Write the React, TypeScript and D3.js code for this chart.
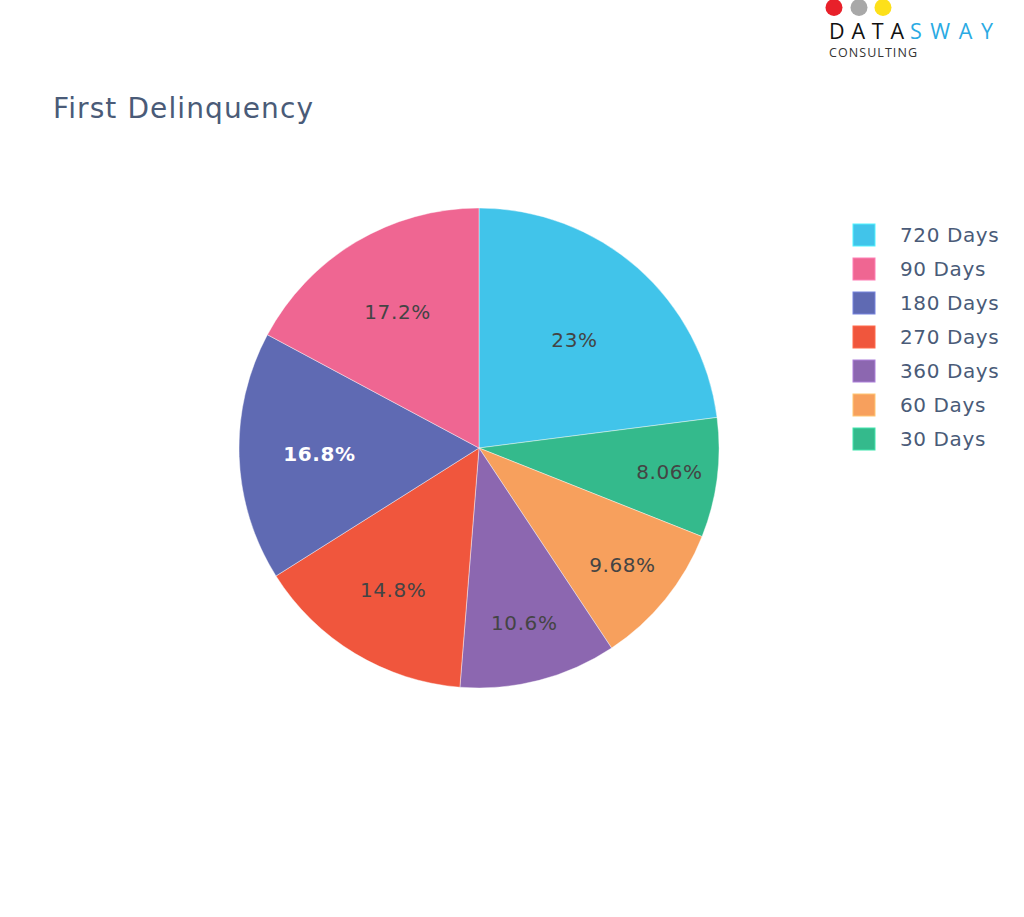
import React from "react";
import * as d3 from "d3";

const labels = ["720 Days", "30 Days", "60 Days", "360 Days", "270 Days", "180 Days", "90 Days"];
const shares = [23, 8.06, 9.68, 10.6, 14.8, 16.8, 17.2];
const colors = ["#41c4ea", "#34ba8c", "#f7a05d", "#8c67b0", "#f0563d", "#5f6ab3", "#ef6692"];
const legendOrder = ["720 Days", "90 Days", "180 Days", "270 Days", "360 Days", "60 Days", "30 Days"];

const W = 1024;
const H = 917;
const cx = 479;
const cy = 448;
const R = 240;
const FONT = "'DejaVu Sans', Verdana, sans-serif";

function brightness(c: string) {
  const rgb = d3.rgb(c);
  return rgb.r * 0.299 + rgb.g * 0.587 + rgb.b * 0.114;
}

export default function App() {
  const data = labels.map((l, i) => ({ label: l, value: shares[i], color: colors[i] }));
  const pie = d3
    .pie<any>()
    .value((d) => d.value)
    .sort(null)
    .startAngle(0)
    .endAngle(Math.PI * 2);
  const arcs = pie(data);
  const arc = d3.arc<any>().innerRadius(0).outerRadius(R);
  const fmt = (v: number) => d3.format(".3~r")(v) + "%";

  return (
    <svg width={W} height={H} style={{ position: "absolute", left: 0, top: 0, background: "#fff" }}>
      {/* logo */}
      <g>
        <circle cx={834} cy={7.5} r={8.5} fill="#e8202a" />
        <circle cx={859} cy={7.5} r={8.5} fill="#a8a8a8" />
        <circle cx={883} cy={7.5} r={8.5} fill="#fde01a" />
        <text x={829} y={39} fontFamily="'Open Sans', sans-serif" fontSize={21.5} fill="#111" textLength={75} lengthAdjust="spacing">DATA</text>
        <text x={910} y={39} fontFamily="'Open Sans', sans-serif" fontSize={21.5} fill="#2aaae3" textLength={83} lengthAdjust="spacing">SWAY</text>
        <text x={829} y={57} fontFamily="'Open Sans', sans-serif" fontSize={12.5} fill="#333" textLength={88} lengthAdjust="spacing">CONSULTING</text>
      </g>

      <text x={53} y={118} fontFamily={FONT} fontSize={28} fill="#4a5b78" letterSpacing={1.1}>
        First Delinquency
      </text>

      <g transform={`translate(${cx},${cy})`}>
        {arcs.map((a, i) => (
          <path key={i} d={arc(a) as string} fill={a.data.color} stroke="#ffffff" strokeWidth={0.6} strokeOpacity={0.7} />
        ))}
        {arcs.map((a, i) => {
          const half = (a.endAngle - a.startAngle) / 2;
          const mid = (a.startAngle + a.endAngle) / 2;
          const rIns = half >= Math.PI / 2 ? 0.5 : Math.min(Math.sin(half) / (1 + Math.sin(half)), 0.5);
          const rc = R * (1 - rIns);
          const x = rc * Math.sin(mid);
          const y = -rc * Math.cos(mid);
          const dark = brightness(a.data.color) < 118;
          return (
            <text
              key={"t" + i}
              x={x}
              y={y}
              dy="0.36em"
              textAnchor="middle"
              fontFamily={FONT}
              fontSize={20}
              letterSpacing={0.6}
              fontWeight={dark ? "bold" : "normal"}
              fill={dark ? "#ffffff" : "#444444"}
            >
              {fmt(a.data.value)}
            </text>
          );
        })}
      </g>

      <g>
        {legendOrder.map((l, i) => {
          const idx = labels.indexOf(l);
          const y = 235 + i * 34;
          return (
            <g key={l}>
              <rect x={853} y={y - 11} width={22} height={22} fill={colors[idx]} stroke={d3.color(colors[idx])!.brighter(0.6).toString()} strokeWidth={1} />
              <text x={900} y={y} dy="0.36em" fontFamily={FONT} fontSize={20} letterSpacing={0.6} fill="#4a5b78">
                {l}
              </text>
            </g>
          );
        })}
      </g>
    </svg>
  );
}
